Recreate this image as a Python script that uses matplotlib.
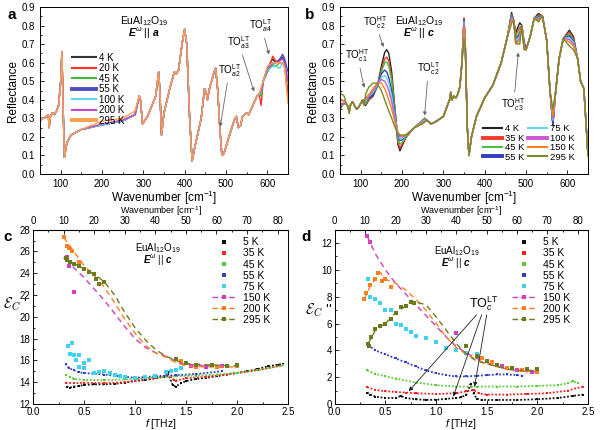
import numpy as np
import matplotlib
matplotlib.use("Agg")
import matplotlib.pyplot as plt
from matplotlib.lines import Line2D
from matplotlib.ticker import MultipleLocator, FixedLocator

plt.rcParams['font.family'] = ['Liberation Sans', 'DejaVu Sans']
plt.rcParams['font.sans-serif'] = ['Liberation Sans', 'DejaVu Sans']
plt.rcParams['mathtext.fontset'] = 'custom'
plt.rcParams['mathtext.rm'] = 'Liberation Sans'
plt.rcParams['mathtext.it'] = 'Liberation Sans:italic'
plt.rcParams['mathtext.bf'] = 'Liberation Sans:bold:italic'

## ---------------- data: panel a (E || a) ----------------
wn_a = [50, 55, 60, 65, 70, 72, 75, 80, 85, 90, 95, 100, 103, 106, 109, 115, 125, 150,
        200, 250, 280, 290, 293, 298, 310, 330, 337, 340, 344, 350, 365, 375, 380, 385,
        395, 400, 405, 412, 418, 425, 440, 448, 452, 455, 460, 470, 475, 480, 485, 490,
        495, 510, 520, 525, 530, 535, 540, 550, 555, 565, 575, 580, 585, 590, 600, 613,
        620, 630, 637, 642, 650]
R_a_base = [0.29, 0.30, 0.30, 0.31, 0.32, 0.25, 0.31, 0.33, 0.32, 0.34, 0.37, 0.50, 0.66,
            0.35, 0.09, 0.17, 0.21, 0.24, 0.265, 0.285, 0.32, 0.42, 0.40, 0.27, 0.31, 0.42,
            0.55, 0.45, 0.21, 0.33, 0.47, 0.55, 0.54, 0.56, 0.72, 0.78, 0.70, 0.30, 0.07,
            0.15, 0.30, 0.46, 0.44, 0.40, 0.46, 0.54, 0.57, 0.45, 0.25, 0.10, 0.11, 0.22,
            0.29, 0.31, 0.25, 0.26, 0.31, 0.33, 0.32, 0.37, 0.42, 0.43, 0.44, 0.50, 0.57,
            0.61, 0.60, 0.62, 0.63, 0.60, 0.42]
# values that differ between temperatures
wn_a_var = [50, 200, 250, 280, 585, 600, 613, 620, 630, 637, 642, 650]
temps_a = ['4 K', '20 K', '45 K', '55 K', '100 K', '200 K', '295 K']
R_a_4K = [0.29, 0.265, 0.285, 0.32, 0.44, 0.57, 0.62, 0.60, 0.61, 0.63, 0.60, 0.42]
R_a_20K = [0.28, 0.265, 0.29, 0.32, 0.37, 0.55, 0.635, 0.61, 0.60, 0.60, 0.58, 0.40]
R_a_45K = [0.31, 0.265, 0.29, 0.32, 0.42, 0.55, 0.59, 0.58, 0.60, 0.60, 0.57, 0.50]
R_a_55K = [0.29, 0.265, 0.285, 0.32, 0.44, 0.56, 0.60, 0.60, 0.62, 0.645, 0.62, 0.55]
R_a_100K = [0.30, 0.265, 0.285, 0.32, 0.44, 0.56, 0.58, 0.58, 0.57, 0.60, 0.59, 0.52]
R_a_200K = [0.29, 0.27, 0.29, 0.32, 0.45, 0.57, 0.60, 0.60, 0.61, 0.62, 0.60, 0.50]
R_a_295K = [0.29, 0.285, 0.30, 0.34, 0.47, 0.58, 0.60, 0.60, 0.60, 0.60, 0.57, 0.38]
R_a_var = [R_a_4K, R_a_20K, R_a_45K, R_a_55K, R_a_100K, R_a_200K, R_a_295K]
colors_a = ['#333333', '#ff3020', '#40b840', '#4a50c0', '#60d4e8', '#c848c8', '#ffa050']

## ---------------- data: panel b (E || c) ----------------
wn_b = [50, 55, 60, 65, 70, 72, 75, 80, 85, 90, 95, 100, 105, 108, 112, 120, 130, 140,
        150, 158, 163, 168, 175, 185, 190, 195, 200, 210, 230, 250, 255, 260, 270, 280,
        300, 315, 318, 321, 325, 330, 335, 340, 345, 350, 353, 358, 362, 368, 380, 400,
        420, 440, 455, 465, 470, 475, 480, 485, 490, 495, 500, 510, 520, 530, 540, 550,
        558, 565, 572, 580, 590, 605, 615, 625, 632, 640, 650]
R_b_base = [0.35, 0.37, 0.38, 0.38, 0.36, 0.33, 0.37, 0.39, 0.37, 0.35, 0.36, 0.38, 0.40,
            0.37, 0.37, 0.40, 0.42, 0.47, 0.58, 0.655, 0.67, 0.65, 0.55, 0.30, 0.16, 0.125,
            0.15, 0.20, 0.25, 0.29, 0.30, 0.29, 0.27, 0.28, 0.31, 0.40, 0.44, 0.40, 0.42,
            0.41, 0.43, 0.47, 0.60, 0.84, 0.70, 0.25, 0.10, 0.20, 0.31, 0.41, 0.48, 0.60,
            0.74, 0.87, 0.83, 0.76, 0.79, 0.815, 0.80, 0.72, 0.67, 0.74, 0.84, 0.865, 0.85,
            0.72, 0.45, 0.26, 0.45, 0.62, 0.73, 0.775, 0.74, 0.62, 0.50, 0.46, 0.10]
wn_b_var = [50, 55, 60, 112, 120, 130, 140, 150, 158, 163, 168, 175, 185, 190, 195, 200,
            210, 250, 255, 350, 465, 475, 480, 485, 495, 530, 565, 605, 615]
temps_b = ['4 K', '35 K', '45 K', '55 K', '75 K', '100 K', '150 K', '295 K']
R_b_4K = [0.35, 0.37, 0.38, 0.37, 0.40, 0.42, 0.47, 0.58, 0.655, 0.67, 0.65, 0.55, 0.30, 0.16,
          0.125, 0.15, 0.20, 0.29, 0.30, 0.84, 0.87, 0.76, 0.79, 0.815, 0.72, 0.865, 0.26,
          0.775, 0.74]
R_b_35K = [0.36, 0.37, 0.38, 0.38, 0.40, 0.43, 0.47, 0.56, 0.62, 0.63, 0.61, 0.52, 0.30, 0.17,
           0.14, 0.16, 0.20, 0.29, 0.30, 0.84, 0.86, 0.75, 0.77, 0.79, 0.71, 0.855, 0.27,
           0.765, 0.73]
R_b_45K = [0.37, 0.37, 0.38, 0.38, 0.41, 0.43, 0.47, 0.55, 0.60, 0.605, 0.58, 0.50, 0.30, 0.19,
           0.16, 0.17, 0.205, 0.29, 0.295, 0.83, 0.855, 0.74, 0.75, 0.77, 0.70, 0.85, 0.28,
           0.755, 0.72]
R_b_55K = [0.37, 0.38, 0.38, 0.39, 0.41, 0.43, 0.48, 0.54, 0.56, 0.55, 0.52, 0.45, 0.29, 0.21,
           0.18, 0.185, 0.21, 0.285, 0.29, 0.83, 0.85, 0.73, 0.74, 0.755, 0.70, 0.845, 0.27,
           0.745, 0.715]
R_b_75K = [0.38, 0.38, 0.38, 0.39, 0.42, 0.44, 0.48, 0.52, 0.53, 0.52, 0.49, 0.42, 0.28, 0.22,
           0.19, 0.19, 0.21, 0.285, 0.29, 0.82, 0.845, 0.72, 0.73, 0.74, 0.69, 0.84, 0.29,
           0.735, 0.71]
R_b_100K = [0.38, 0.38, 0.38, 0.40, 0.42, 0.45, 0.48, 0.51, 0.50, 0.48, 0.45, 0.39, 0.27, 0.22,
            0.20, 0.20, 0.21, 0.28, 0.285, 0.81, 0.84, 0.71, 0.72, 0.73, 0.69, 0.835, 0.30,
            0.725, 0.70]
R_b_150K = [0.40, 0.40, 0.39, 0.41, 0.43, 0.46, 0.49, 0.49, 0.46, 0.43, 0.40, 0.35, 0.26, 0.22,
            0.21, 0.205, 0.21, 0.275, 0.28, 0.79, 0.83, 0.70, 0.71, 0.72, 0.68, 0.825, 0.31,
            0.71, 0.69]
R_b_295K = [0.43, 0.43, 0.42, 0.43, 0.47, 0.49, 0.49, 0.45, 0.40, 0.37, 0.34, 0.30, 0.24, 0.22,
            0.21, 0.21, 0.21, 0.27, 0.28, 0.73, 0.81, 0.71, 0.70, 0.70, 0.67, 0.82, 0.35,
            0.69, 0.67]
R_b_var = [R_b_4K, R_b_35K, R_b_45K, R_b_55K, R_b_75K, R_b_100K, R_b_150K, R_b_295K]
colors_b = ['#222222', '#f03a2a', '#48c040', '#3040c0', '#60d8f0', '#c858d0', '#ff8020', '#7a8a28']

## ---------------- data: panel c (eps') ----------------
f_5K = [0.33, 0.36, 0.40, 0.45, 0.50, 0.60, 0.70, 0.80, 0.90, 1.00, 1.10, 1.20, 1.28, 1.32,
        1.37, 1.40, 1.45, 1.50, 1.60, 1.70, 1.80, 1.90, 2.00, 2.10, 2.20, 2.30, 2.40, 2.45]
e1_5K = [13.6, 13.5, 13.6, 13.65, 13.75, 13.8, 13.8, 13.85, 13.95, 14.1, 14.2, 14.35, 14.5, 14.9,
         13.7, 13.6, 13.9, 14.1, 14.3, 14.4, 14.55, 14.7, 14.85, 15.0, 15.2, 15.45, 15.6, 15.7]
f_35K = [0.32, 0.40, 0.50, 0.70, 0.90, 1.00, 1.20, 1.30, 1.35, 1.38, 1.40, 1.50, 1.70, 1.90,
         2.00, 2.20, 2.45]
e1_35K = [13.95, 13.9, 13.95, 13.9, 14.0, 14.15, 14.4, 14.55, 14.5, 14.2, 14.15, 14.35, 14.5,
          14.7, 14.85, 15.1, 15.55]
f_45K = [0.32, 0.36, 0.40, 0.50, 0.70, 0.90, 1.00, 1.20, 1.40, 1.60, 1.80, 2.00, 2.20, 2.45]
e1_45K = [14.7, 14.5, 14.3, 14.2, 14.2, 14.25, 14.3, 14.45, 14.55, 14.6, 14.7, 14.85, 15.1, 15.55]
f_55K = [0.32, 0.35, 0.40, 0.45, 0.50, 0.70, 0.90, 1.00, 1.20, 1.40, 1.60, 1.85]
e1_55K = [15.7, 15.3, 15.1, 14.9, 14.85, 14.7, 14.5, 14.4, 14.55, 14.65, 14.75, 15.0]
f_75K = [0.34, 0.36, 0.38, 0.40, 0.42, 0.45, 0.45, 0.50, 0.50, 0.55, 0.60, 0.65, 0.70, 0.75,
         0.80, 0.85, 0.90, 1.00, 1.10, 1.20, 1.30, 1.35, 1.40, 1.45]
e1_75K = [17.3, 16.6, 17.6, 16.5, 16.0, 16.5, 15.4, 15.8, 15.3, 16.0, 14.8, 14.9, 15.0, 14.8,
          14.7, 14.6, 14.5, 14.4, 14.5, 14.6, 14.9, 15.0, 15.1, 15.3]
f_150K = [0.33, 0.40, 0.50, 0.70, 0.90, 1.00, 1.10, 1.20, 1.30, 1.45, 1.70, 1.90]
e1_150K = [25.3, 24.5, 23.6, 21.5, 19.1, 18.0, 17.2, 16.7, 16.4, 15.7, 15.5, 15.4]
f_200K = [0.30, 0.40, 0.50, 0.60, 0.70, 0.80, 0.90, 1.00, 1.10, 1.20, 1.30, 1.40, 1.50, 1.70, 2.00]
e1_200K = [27.3, 26.0, 24.7, 23.8, 22.7, 21.3, 19.8, 18.5, 17.4, 16.7, 16.3, 15.8, 15.5, 15.4, 15.4]
f_295K = [0.30, 0.40, 0.50, 0.60, 0.70, 0.80, 0.90, 1.00, 1.10, 1.20, 1.30, 1.40, 1.50, 1.70, 2.00]
e1_295K = [25.4, 24.9, 24.4, 23.9, 23.2, 22.0, 20.4, 19.0, 17.9, 17.0, 16.4, 16.0, 15.7, 15.6, 15.5]
# measured points on top of the high-temperature curves
fp_150K = [0.33, 0.35, 0.40, 1.55, 1.70, 1.85]
e1p_150K = [25.5, 24.7, 22.3, 15.5, 15.4, 15.5]
fp_200K = [0.30, 0.33, 0.35, 0.38, 0.45, 1.45, 1.60, 1.80, 2.00]
e1p_200K = [27.3, 26.5, 26.3, 26.0, 25.0, 15.9, 15.4, 15.4, 15.5]
fp_295K = [0.32, 0.33, 0.36, 0.40, 0.45, 0.50, 0.55, 0.60, 0.62, 0.65, 0.70, 1.40, 1.50,
           1.60, 1.75, 1.90, 2.00]
e1p_295K = [25.4, 25.2, 25.0, 24.8, 24.7, 24.4, 24.1, 23.9, 23.5, 23.0, 23.2, 16.1, 15.8,
            15.6, 15.6, 15.5, 15.6]

## ---------------- data: panel d (eps'') ----------------
f2_5K = [0.32, 0.35, 0.40, 0.50, 0.60, 0.65, 0.70, 0.80, 0.90, 1.00, 1.10, 1.20, 1.25, 1.30,
         1.34, 1.37, 1.40, 1.45, 1.60, 1.80, 2.00, 2.20, 2.35, 2.45]
e2_5K = [0.85, 0.7, 0.55, 0.45, 0.45, 0.6, 0.45, 0.35, 0.3, 0.32, 0.38, 0.45, 0.5, 0.7, 1.5,
         0.8, 0.4, 0.3, 0.3, 0.3, 0.35, 0.45, 0.6, 0.7]
f2_35K = [0.32, 0.40, 0.50, 0.60, 0.70, 0.80, 1.00, 1.20, 1.30, 1.37, 1.42, 1.50, 1.70, 1.90,
          2.10, 2.30, 2.45]
e2_35K = [1.25, 1.05, 0.95, 0.9, 0.85, 0.8, 0.75, 0.8, 0.95, 1.05, 0.8, 0.7, 0.7, 0.75, 0.8,
          1.0, 1.3]
f2_45K = [0.32, 0.40, 0.50, 0.60, 0.80, 1.00, 1.20, 1.40, 1.60, 1.80, 2.00, 2.20, 2.30, 2.35, 2.40]
e2_45K = [2.5, 2.25, 2.05, 1.9, 1.6, 1.4, 1.3, 1.3, 1.3, 1.3, 1.35, 1.4, 1.55, 1.7, 1.55]
f2_55K = [0.33, 0.40, 0.50, 0.60, 0.70, 0.80, 0.90, 1.00, 1.10, 1.20, 1.30, 1.40, 1.50, 1.60,
          1.70, 1.80, 1.85]
e2_55K = [4.4, 4.0, 3.7, 3.4, 3.1, 2.8, 2.5, 2.3, 2.15, 2.05, 2.05, 2.1, 2.15, 2.2, 2.2, 2.15, 2.1]
f2_75K = [0.33, 0.35, 0.40, 0.45, 0.50, 0.55, 0.60, 0.65, 0.70, 0.75, 0.80, 0.90, 1.00, 1.10,
          1.20, 1.30, 1.40]
e2_75K = [9.3, 8.0, 7.8, 7.5, 7.0, 7.0, 6.0, 5.9, 5.6, 5.4, 5.1, 4.9, 4.6, 4.2, 4.0, 3.8, 3.7]
f2_150K = [0.32, 0.40, 0.50, 0.60, 0.70, 0.80, 0.90, 1.00, 1.10, 1.20, 1.30, 1.40, 1.50, 1.60,
           1.70, 1.80, 1.90, 2.00]
e2_150K = [12.5, 11.2, 10.0, 9.0, 8.2, 7.4, 6.6, 5.8, 5.0, 4.3, 3.8, 3.4, 3.1, 2.8, 2.6, 2.5,
           2.4, 2.4]
f2_200K = [0.29, 0.32, 0.35, 0.40, 0.45, 0.50, 0.60, 0.70, 0.80, 0.90, 1.00, 1.10, 1.20, 1.30,
           1.40, 1.50, 1.60, 1.70, 1.80, 2.00]
e2_200K = [7.8, 8.3, 8.8, 9.3, 9.8, 9.3, 9.0, 8.5, 7.8, 7.0, 6.0, 5.0, 4.2, 3.7, 3.3, 3.0, 2.8,
           2.6, 2.5, 2.4]
f2_295K = [0.33, 0.40, 0.50, 0.60, 0.70, 0.75, 0.80, 0.90, 1.00, 1.10, 1.20, 1.30, 1.40, 1.50,
           1.60, 1.70, 1.80, 2.00]
e2_295K = [4.5, 5.5, 6.0, 6.8, 7.3, 7.6, 7.6, 7.4, 6.5, 5.5, 4.5, 3.7, 3.2, 3.0, 2.8, 2.6, 2.5, 2.5]
f2p_150K = [0.32, 0.35, 1.20, 1.50, 1.65, 1.80, 1.95]
e2p_150K = [12.5, 12.1, 5.3, 3.2, 2.8, 2.5, 2.4]
f2p_200K = [0.29, 0.31, 0.35, 0.40, 0.43, 0.47, 0.50, 0.55, 1.45, 1.55, 1.70, 1.85, 2.00]
e2p_200K = [7.8, 8.3, 8.9, 9.3, 9.8, 9.2, 9.3, 8.7, 3.4, 3.1, 2.7, 2.5, 2.4]
f2p_295K = [0.33, 0.34, 0.36, 0.40, 0.45, 0.50, 0.55, 0.60, 0.65, 0.70, 0.75, 0.78, 1.30,
            1.40, 1.50, 1.60, 1.75, 1.90, 2.00]
e2p_295K = [4.5, 4.3, 5.0, 5.6, 5.8, 6.0, 6.3, 6.8, 7.2, 7.3, 7.6, 7.5, 4.3, 3.6, 3.2, 2.9,
            2.7, 2.6, 2.6]

temps_cd = ['5 K', '35 K', '45 K', '55 K', '75 K', '150 K', '200 K', '295 K']
colors_cd = ['#111111', '#ff2020', '#5ccc3c', '#2f3fbf', '#40d0f0', '#d040c0', '#ff7f20', '#6b7a1a']
top_ticks = [0, 10, 20, 30, 40, 50, 60, 70, 80]

THZ_TO_CM = 33.356


def style_axis(ax, xmaj, xmin, ymaj, ymin, pad=3.5):
    ax.xaxis.set_major_locator(MultipleLocator(xmaj))
    ax.xaxis.set_minor_locator(MultipleLocator(xmin))
    ax.yaxis.set_major_locator(MultipleLocator(ymaj))
    ax.yaxis.set_minor_locator(MultipleLocator(ymin))
    ax.tick_params(which='both', direction='in', labelsize=7, width=0.6, pad=pad)
    ax.tick_params(which='major', length=3)
    ax.tick_params(which='minor', length=1.6)
    for s in ax.spines.values():
        s.set_linewidth(0.7)


def build_curve(wn, base, wn_var, vals):
    R = list(base)
    for w, v in zip(wn_var, vals):
        R[wn.index(w)] = v
    return R


fig = plt.figure(figsize=(6, 4.3), dpi=100)
ax_a = fig.add_axes([0.0667, 0.5953, 0.4133, 0.3884])
ax_b = fig.add_axes([0.5667, 0.5953, 0.4133, 0.3884])
ax_c = fig.add_axes([0.055, 0.0605, 0.425, 0.4055])
ax_d = fig.add_axes([0.558, 0.0605, 0.422, 0.4055])

arrow_grey = dict(arrowstyle='-|>', color='#666666', lw=0.6, mutation_scale=5)
label_kw = dict(fontsize=8.5)

## panel a
for T, vals, c in zip(temps_a, R_a_var, colors_a):
    ax_a.plot(wn_a, build_curve(wn_a, R_a_base, wn_a_var, vals), color=c, lw=1.0)
ax_a.set_xlim(50, 650)
ax_a.set_ylim(0, 0.9)
style_axis(ax_a, 100, 50, 0.1, 0.05)
ax_a.set_xlabel('Wavenumber [cm$^{-1}$]', labelpad=0, **label_kw)
ax_a.set_ylabel('Reflectance', labelpad=2, **label_kw)
lw_a = [1.5, 1.5, 1.5, 2.8, 1.5, 1.5, 2.8]
h_a = [Line2D([], [], color=c, lw=w) for c, w in zip(colors_a, lw_a)]
ax_a.legend(h_a, temps_a, loc='upper left', bbox_to_anchor=(0.11, 0.755), frameon=False,
            fontsize=7, handlelength=2.5, handletextpad=0.3, labelspacing=0.05, borderpad=0)
ax_a.text(0.42, 0.9, 'EuAl$_{12}$O$_{19}$', transform=ax_a.transAxes, ha='center', fontsize=7.5)
ax_a.text(0.42, 0.82, r'$\mathbf{E}^{\omega}$ || $\mathbf{a}$', transform=ax_a.transAxes,
          ha='center', fontsize=7.5)
ax_a.annotate('TO$_{a2}^{\\rm LT}$', xy=(485, 0.24), xytext=(508, 0.54), fontsize=7,
              ha='center', arrowprops=dict(arrow_grey, shrinkA=1))
ax_a.annotate('TO$_{a3}^{\\rm LT}$', xy=(570, 0.43), xytext=(530, 0.69), fontsize=7,
              ha='center', arrowprops=dict(arrow_grey, shrinkA=1))
ax_a.annotate('TO$_{a4}^{\\rm LT}$', xy=(606, 0.63), xytext=(585, 0.78), fontsize=7,
              ha='center', arrowprops=dict(arrow_grey, shrinkA=1))

## panel b
for T, vals, c in zip(temps_b, R_b_var, colors_b):
    ax_b.plot(wn_b, build_curve(wn_b, R_b_base, wn_b_var, vals), color=c, lw=1.0)
ax_b.set_xlim(50, 650)
ax_b.set_ylim(0, 0.9)
style_axis(ax_b, 100, 50, 0.1, 0.05)
ax_b.set_xlabel('Wavenumber [cm$^{-1}$]', labelpad=0, **label_kw)
ax_b.set_ylabel('Reflectance', labelpad=2, **label_kw)
lw_b = [1.5, 2.8, 1.5, 2.8, 1.5, 2.8, 1.5, 1.5]
h_b = [Line2D([], [], color=c, lw=w) for c, w in zip(colors_b, lw_b)]
ax_b.legend(h_b, temps_b, loc='lower right', bbox_to_anchor=(0.965, 0.045), ncol=2,
            frameon=False, fontsize=6.8, handlelength=2.0, handletextpad=0.3,
            labelspacing=0.05, columnspacing=0.4, borderpad=0)
ax_b.text(0.32, 0.9, 'EuAl$_{12}$O$_{19}$', transform=ax_b.transAxes, ha='center', fontsize=7.5)
ax_b.text(0.32, 0.82, r'$\mathbf{E}^{\omega}$ || $\mathbf{c}$', transform=ax_b.transAxes,
          ha='center', fontsize=7.5)
ax_b.annotate('TO$_{c1}^{\\rm HT}$', xy=(110, 0.45), xytext=(92, 0.62), fontsize=7,
              ha='center', arrowprops=dict(arrow_grey, shrinkA=1))
ax_b.annotate('TO$_{c2}^{\\rm HT}$', xy=(157, 0.67), xytext=(135, 0.80), fontsize=7,
              ha='center', arrowprops=dict(arrow_grey, shrinkA=1))
ax_b.annotate('TO$_{c2}^{\\rm LT}$', xy=(254, 0.30), xytext=(264, 0.55), fontsize=7,
              ha='center', arrowprops=dict(arrow_grey, shrinkA=1))
ax_b.annotate('TO$_{c3}^{\\rm HT}$', xy=(482, 0.67), xytext=(470, 0.42), fontsize=7,
              ha='center', va='top', arrowprops=dict(arrow_grey, shrinkA=1))

## panels c and d


def draw_eps(ax, scatter_sets, line_sets, point_sets):
    hs = []
    for (f, e), c in zip(scatter_sets[:4], colors_cd[:4]):
        ax.plot(f, e, ls=(0, (1, 1)), lw=1.3, color=c, marker='s', ms=1.8, mew=0)
    f, e = scatter_sets[4]
    ax.plot(f, e, ls='none', color=colors_cd[4], marker='s', ms=2.2, mew=0)
    for (f, e), (fp, ep), c in zip(line_sets, point_sets, colors_cd[5:]):
        ax.plot(f, e, ls=(0, (4, 3)), lw=1.0, color=c)
        ax.plot(fp, ep, ls='none', color=c, marker='s', ms=2.2, mew=0)
    for c in colors_cd[:5]:
        hs.append(Line2D([], [], ls='none', marker='s', ms=2.5, mew=0, color=c))
    for c in colors_cd[5:]:
        hs.append(Line2D([], [], ls=(0, (4, 2)), lw=1.0, marker='s', ms=2.5, mew=0, color=c))
    ax.set_xlim(0, 2.5)
    style_axis(ax, 0.5, 0.25, 2, 1, pad=2.2)
    ax.set_xlabel('$f$ [THz]', fontsize=7.5, labelpad=0)
    sec = ax.secondary_xaxis('top', functions=(lambda x: x * THZ_TO_CM, lambda w: w / THZ_TO_CM))
    sec.xaxis.set_major_locator(FixedLocator(top_ticks))
    sec.xaxis.set_minor_locator(FixedLocator([t + 5 for t in top_ticks]))
    sec.tick_params(which='both', direction='in', labelsize=7, width=0.6, pad=2.5)
    sec.tick_params(which='major', length=3)
    sec.tick_params(which='minor', length=1.6)
    sec.set_xlabel('Wavenumber [cm$^{-1}$]', fontsize=6.5, labelpad=1.5)
    ax.legend(hs, temps_cd, loc='upper right', bbox_to_anchor=(0.95, 0.985), frameon=False,
              fontsize=7.5, numpoints=1, handlelength=2.4, handletextpad=0.6,
              labelspacing=0.1, borderpad=0, markerfirst=True)
    return ax


draw_eps(ax_c,
         [(f_5K, e1_5K), (f_35K, e1_35K), (f_45K, e1_45K), (f_55K, e1_55K), (f_75K, e1_75K)],
         [(f_150K, e1_150K), (f_200K, e1_200K), (f_295K, e1_295K)],
         [(fp_150K, e1p_150K), (fp_200K, e1p_200K), (fp_295K, e1p_295K)])
ax_c.set_ylim(12, 28)
ax_c.set_ylabel(r"$\mathcal{E}_C$ '", fontsize=10.5, rotation=0, math_fontfamily='cm',
                ha='center', va='center')
ax_c.yaxis.set_label_coords(-0.07, 0.57)
ax_c.text(0.49, 0.875, 'EuAl$_{12}$O$_{19}$', transform=ax_c.transAxes, ha='center', fontsize=7)
ax_c.text(0.49, 0.8, r'$\mathbf{E}^{\omega}$ || $\mathbf{c}$', transform=ax_c.transAxes,
          ha='center', fontsize=7)

draw_eps(ax_d,
         [(f2_5K, e2_5K), (f2_35K, e2_35K), (f2_45K, e2_45K), (f2_55K, e2_55K), (f2_75K, e2_75K)],
         [(f2_150K, e2_150K), (f2_200K, e2_200K), (f2_295K, e2_295K)],
         [(f2p_150K, e2p_150K), (f2p_200K, e2p_200K), (f2p_295K, e2p_295K)])
ax_d.set_ylim(0, 13)
ax_d.set_ylabel(r"$\mathcal{E}_C$ ''", fontsize=10.5, rotation=0, math_fontfamily='cm',
                ha='center', va='center')
ax_d.yaxis.set_label_coords(-0.065, 0.54)
ax_d.text(0.48, 0.86, 'EuAl$_{12}$O$_{19}$', transform=ax_d.transAxes, ha='center', fontsize=7)
ax_d.text(0.48, 0.785, r'$\mathbf{E}^{\omega}$ || $\mathbf{c}$', transform=ax_d.transAxes,
          ha='center', fontsize=7)
arrow_k = dict(arrowstyle='-|>', color='#222222', lw=0.6, mutation_scale=6, shrinkA=0, shrinkB=0)
ax_d.text(1.47, 6.75, 'TO$_{c}^{\\rm LT}$', fontsize=9, ha='center', va='bottom')
for start, end in [((1.40, 6.65), (0.73, 0.95)), ((1.45, 6.65), (1.17, 0.55)),
                   ((1.50, 6.65), (1.38, 1.3))]:
    ax_d.annotate('', xy=end, xytext=start, arrowprops=arrow_k)

for lab, x, y in [('a', 0.012, 0.955), ('b', 0.508, 0.955), ('c', 0.005, 0.44), ('d', 0.503, 0.44)]:
    fig.text(x, y, lab, fontsize=11, fontweight='bold')

fig.savefig('out.png', dpi=100)
